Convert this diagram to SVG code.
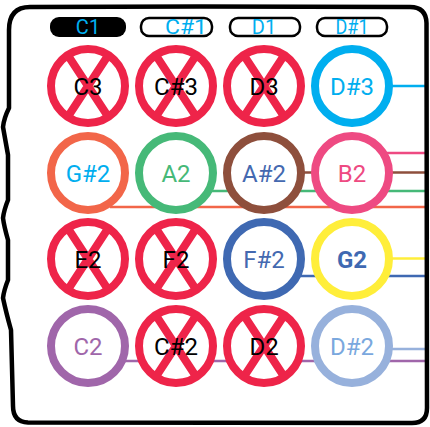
<svg xmlns="http://www.w3.org/2000/svg" width="430" height="427" viewBox="0 0 430 427">
<style>
.ring{fill:#fff;stroke-width:8}
.x{stroke:#EE2449;stroke-width:8}
.t{font-family:Roboto,"Liberation Sans",sans-serif;font-size:24px;text-anchor:middle}
.pl{font-family:Roboto,"Liberation Sans",sans-serif;font-size:20px;text-anchor:middle;fill:#00AEEF}
.pill{stroke:#000;stroke-width:2.5;fill:#fff}
.c line{stroke-width:2.5}
</style>
<rect width="430" height="427" fill="#fff"/>
<g id="connectors" class="c">
<line x1="390" y1="86" x2="427" y2="86" stroke="#00AEEF"/>
<line x1="386" y1="153" x2="427" y2="153" stroke="#EE4A82"/>
<line x1="300" y1="172.5" x2="427" y2="172.5" stroke="#8E4F3C"/>
<line x1="210" y1="191" x2="427" y2="191" stroke="#46B978"/>
<line x1="110" y1="207" x2="427" y2="207" stroke="#F26649"/>
<line x1="390" y1="258.5" x2="427" y2="258.5" stroke="#FFEE3A"/>
<line x1="298" y1="276" x2="427" y2="276" stroke="#3F69B2"/>
<line x1="390" y1="349" x2="427" y2="349" stroke="#97B1DC"/>
<line x1="125" y1="361" x2="427" y2="361" stroke="#A066AA"/>
</g>
<g id="frame">
<path d="M30,7 L200,6.5 L410,7 Q426,7 426.5,23 L427,408 Q427,423 412,423 L28,422.5 Q13,422 13,406 L11,330 Q6,312 3,298 Q4,290 8,280 L8,240 Q4,226 3,218 Q4,210 8,200 L8,155 Q5,138 3,127 Q4,118 9,108 L9,30 Q9,7 30,7 Z" fill="none" stroke="#000" stroke-width="4.5" stroke-linejoin="round"/>
</g>
<g id="pill-C1"><rect x="50" y="17" width="76" height="20" rx="9" fill="#000"/><text class="pl" x="88" y="34">C1</text></g>
<g id="pill-Cs1"><rect class="pill" x="141" y="18" width="71" height="18" rx="8"/><text class="pl" x="186" y="34" textLength="42" lengthAdjust="spacingAndGlyphs">C#1</text></g>
<g id="pill-D1"><rect class="pill" x="230" y="18" width="70" height="18" rx="8"/><text class="pl" x="264" y="34">D1</text></g>
<g id="pill-Ds1"><rect class="pill" x="317" y="18" width="70" height="18" rx="8"/><text class="pl" x="352" y="34" textLength="33" lengthAdjust="spacingAndGlyphs">D#1</text></g>

<g id="C3"><circle class="ring" cx="88" cy="86" r="37" stroke="#EE2449"/><path class="x" d="M67,54 L109,118 M109,54 L67,118"/><text class="t" x="88" y="94.5" fill="#000">C3</text></g>
<g id="Cs3"><circle class="ring" cx="176" cy="86" r="37" stroke="#EE2449"/><path class="x" d="M155,54 L197,118 M197,54 L155,118"/><text class="t" x="176" y="94.5" fill="#000">C#3</text></g>
<g id="D3"><circle class="ring" cx="264" cy="86" r="37" stroke="#EE2449"/><path class="x" d="M243,54 L285,118 M285,54 L243,118"/><text class="t" x="264" y="94.5" fill="#000">D3</text></g>
<g id="Ds3"><circle class="ring" cx="352" cy="86" r="37" stroke="#00AEEF"/><text class="t" x="352" y="94.5" fill="#00AEEF">D#3</text></g>

<g id="Gs2"><circle class="ring" cx="88" cy="173" r="37" stroke="#F26649"/><text class="t" x="88" y="181.5" fill="#00AEEF">G#2</text></g>
<g id="A2"><circle class="ring" cx="176" cy="173" r="37" stroke="#46B978"/><text class="t" x="176" y="181.5" fill="#46B978">A2</text></g>
<g id="As2"><circle class="ring" cx="264" cy="173" r="37" stroke="#8E4F3C"/><text class="t" x="264" y="181.5" fill="#4469B0">A#2</text></g>
<g id="B2"><circle class="ring" cx="352" cy="173" r="37" stroke="#EE4A82"/><text class="t" x="352" y="181.5" fill="#EE4A82">B2</text></g>

<g id="E2"><circle class="ring" cx="88" cy="259" r="37" stroke="#EE2449"/><path class="x" d="M67,227 L109,291 M109,227 L67,291"/><text class="t" x="88" y="267.5" fill="#000">E2</text></g>
<g id="F2"><circle class="ring" cx="176" cy="259" r="37" stroke="#EE2449"/><path class="x" d="M155,227 L197,291 M197,227 L155,291"/><text class="t" x="176" y="267.5" fill="#000">F2</text></g>
<g id="Fs2"><circle class="ring" cx="264" cy="259" r="37" stroke="#3F69B2"/><text class="t" x="264" y="267.5" fill="#4469B0">F#2</text></g>
<g id="G2"><circle class="ring" cx="352" cy="259" r="37" stroke="#FFEE3A"/><text class="t" x="352" y="267.5" fill="#3F69B2" font-weight="bold">G2</text></g>

<g id="C2"><circle class="ring" cx="88" cy="346" r="37" stroke="#A066AA"/><text class="t" x="88" y="354.5" fill="#A066AA">C2</text></g>
<g id="Cs2"><circle class="ring" cx="176" cy="346" r="37" stroke="#EE2449"/><path class="x" d="M155,314 L197,378 M197,314 L155,378"/><text class="t" x="176" y="354.5" fill="#000">C#2</text></g>
<g id="D2"><circle class="ring" cx="264" cy="346" r="37" stroke="#EE2449"/><path class="x" d="M243,314 L285,378 M285,314 L243,378"/><text class="t" x="264" y="354.5" fill="#000">D2</text></g>
<g id="Ds2"><circle class="ring" cx="352" cy="346" r="37" stroke="#97B1DC"/><text class="t" x="352" y="354.5" fill="#7AA8DE">D#2</text></g>
</svg>
